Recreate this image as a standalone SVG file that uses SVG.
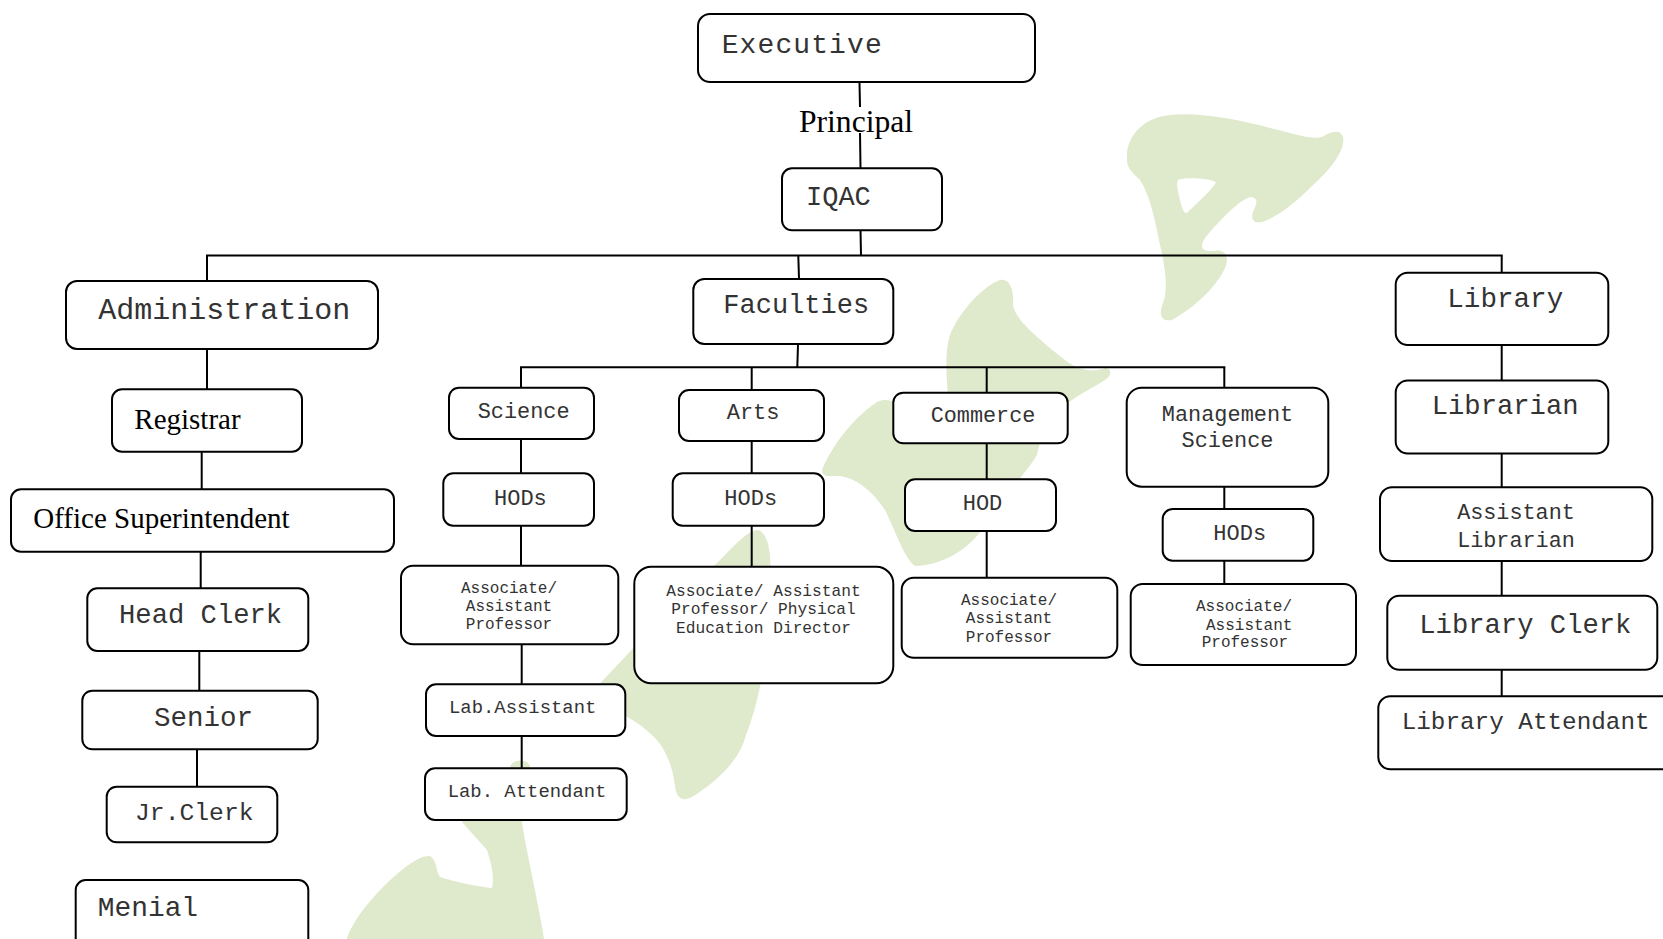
<svg xmlns="http://www.w3.org/2000/svg" width="1663" height="939" viewBox="0 0 1663 939">
<style>
.bg{fill:#ffffff}
.wm{fill:#dfe9cc;stroke:none}
.box{fill:#ffffff;stroke:#000000;stroke-width:2}
.ln{stroke:#000000;stroke-width:2;fill:none}
.m{font-family:"Liberation Mono","Courier New",monospace;fill:#333333}
.s{font-family:"Liberation Serif","Times New Roman",serif;fill:#000000}
.c{text-anchor:middle}
</style>
<rect class="bg" x="0" y="0" width="1663" height="939"/>
<g id="watermark">
<path class="wm" fill-rule="evenodd" d="M1127,160 C1125,140 1140,118 1170,115 C1200,112 1240,120 1270,128 C1295,134 1312,140 1322,137 C1330,132 1340,128 1343,137 C1346,150 1330,170 1312,186 C1295,203 1280,215 1265,221 C1255,225 1250,220 1253,212 C1256,205 1260,198 1250,197 C1240,200 1225,215 1210,232 C1198,245 1200,252 1213,251 C1225,248 1230,257 1225,268 C1215,290 1190,310 1172,320 C1162,322 1158,315 1163,303 C1168,290 1166,270 1160,245 C1155,220 1150,195 1140,180 C1132,172 1127,168 1127,160 Z M1178,180 C1182,177 1210,178 1216,182 C1214,188 1195,205 1188,212 C1185,215 1182,210 1180,200 C1178,192 1176,184 1178,180 Z"/>
<path class="wm" d="M822,470 C830,450 850,420 877,402 C890,396 898,405 905,412 L948,398 C946,370 945,350 950,335 C960,310 985,285 1000,280 C1010,278 1014,290 1013,305 C1015,320 1040,340 1065,360 C1080,372 1095,372 1105,368 C1112,368 1112,376 1105,380 C1090,390 1075,395 1060,410 C1045,425 1040,440 1037,455 C1025,475 1000,500 985,525 C970,550 940,566 915,566 C905,560 895,530 885,510 C872,490 855,478 840,476 C830,476 822,478 822,470 Z"/>
<path class="wm" d="M758,530 C766,532 772,548 770,575 L766,645 C762,690 752,720 745,738 C740,758 718,782 690,798 C680,802 676,795 675,786 C673,770 668,752 655,738 C645,728 632,718 620,714 L596,688 C640,640 690,590 720,560 C735,545 748,530 758,530 Z"/>
<path class="wm" d="M510,768 C510,760 526,757 530,766 L522,823 C528,860 538,900 545,945 L345,945 C348,930 360,910 385,885 C405,866 420,855 430,856 C437,860 436,872 440,877 C455,882 480,887 492,888 C495,875 490,860 487,850 L462,822 Z"/>
</g>
<g id="connectors">
<line class="ln" x1="859.5" y1="83" x2="860" y2="107"/>
<line class="ln" x1="860" y1="133" x2="860.5" y2="168"/>
<line class="ln" x1="860.5" y1="230" x2="861" y2="255.5"/>
<line class="ln" x1="206" y1="255.5" x2="1502.7" y2="255.5"/>
<line class="ln" x1="207" y1="255.5" x2="207" y2="281"/>
<line class="ln" x1="798.3" y1="255.5" x2="799" y2="279"/>
<line class="ln" x1="1501.7" y1="255.5" x2="1501.7" y2="272.7"/>
<line class="ln" x1="207" y1="349" x2="207" y2="389.3"/>
<line class="ln" x1="201.7" y1="451.7" x2="201.7" y2="489.3"/>
<line class="ln" x1="200.7" y1="551.7" x2="200.7" y2="588.3"/>
<line class="ln" x1="199.3" y1="651" x2="199.3" y2="690.7"/>
<line class="ln" x1="197" y1="749.3" x2="197" y2="786.7"/>
<line class="ln" x1="798" y1="344" x2="797.3" y2="367.3"/>
<line class="ln" x1="520" y1="367.3" x2="1225.3" y2="367.3"/>
<line class="ln" x1="521" y1="367.3" x2="521" y2="387.7"/>
<line class="ln" x1="751.7" y1="367.3" x2="751.7" y2="390"/>
<line class="ln" x1="986.7" y1="367.3" x2="986.7" y2="392.7"/>
<line class="ln" x1="1224.3" y1="367.3" x2="1224.3" y2="387.7"/>
<line class="ln" x1="521" y1="439" x2="521" y2="473.3"/>
<line class="ln" x1="521" y1="525.7" x2="521" y2="565.7"/>
<line class="ln" x1="521.7" y1="644.3" x2="521.7" y2="684.3"/>
<line class="ln" x1="521.7" y1="736" x2="521.7" y2="768.3"/>
<line class="ln" x1="751.7" y1="441" x2="751.7" y2="473.3"/>
<line class="ln" x1="751.7" y1="525.7" x2="751.7" y2="566.7"/>
<line class="ln" x1="986.7" y1="443.3" x2="986.7" y2="479.3"/>
<line class="ln" x1="986.7" y1="531" x2="986.7" y2="577.7"/>
<line class="ln" x1="1224.3" y1="486.7" x2="1224.3" y2="509"/>
<line class="ln" x1="1224.3" y1="560.7" x2="1224.3" y2="584"/>
<line class="ln" x1="1501.7" y1="345" x2="1501.7" y2="380.5"/>
<line class="ln" x1="1501.7" y1="453.5" x2="1501.7" y2="487.2"/>
<line class="ln" x1="1501.7" y1="561" x2="1501.7" y2="595.7"/>
<line class="ln" x1="1501.7" y1="669.8" x2="1501.7" y2="696.3"/>
</g>
<text id="principal" class="s" x="799" y="131.7" font-size="31.6">Principal</text>
<g id="executive"><rect class="box" x="698" y="14" width="337" height="68" rx="12"/><text class="m" x="721.7" y="52.7" font-size="28" letter-spacing="1.1">Executive</text></g>
<g id="iqac"><rect class="box" x="782" y="168.3" width="160" height="62" rx="10"/><text class="m" x="806" y="205" font-size="27">IQAC</text></g>
<g id="administration"><rect class="box" x="66" y="281" width="312" height="68" rx="11"/><text class="m" x="98.3" y="319.3" font-size="30">Administration</text></g>
<g id="registrar"><rect class="box" x="112" y="389.3" width="190" height="62.4" rx="10"/><text class="s" x="134.3" y="429" font-size="29">Registrar</text></g>
<g id="office-superintendent"><rect class="box" x="11" y="489.3" width="383" height="62.4" rx="10"/><text class="s" x="33.3" y="528.3" font-size="29">Office Superintendent</text></g>
<g id="head-clerk"><rect class="box" x="87.3" y="588.3" width="221" height="62.7" rx="10"/><text class="m" x="119" y="623.3" font-size="27.2">Head Clerk</text></g>
<g id="senior"><rect class="box" x="82.3" y="690.7" width="235.4" height="58.6" rx="10"/><text class="m" x="154" y="725.7" font-size="27.5">Senior</text></g>
<g id="jr-clerk"><rect class="box" x="106.7" y="786.7" width="170.6" height="55.6" rx="10"/><text class="m" x="135" y="820" font-size="24.7">Jr.Clerk</text></g>
<g id="menial"><rect class="box" x="75.7" y="880" width="232.6" height="80" rx="10"/><text class="m" x="97.7" y="916" font-size="27.9">Menial</text></g>
<g id="faculties"><rect class="box" x="693.3" y="279" width="200" height="65" rx="11"/><text class="m" x="723.3" y="313.3" font-size="27">Faculties</text></g>
<g id="science"><rect class="box" x="449" y="387.7" width="145" height="51.3" rx="10"/><text class="m" x="477.7" y="417.7" font-size="21.9">Science</text></g>
<g id="hods-science"><rect class="box" x="443.3" y="473.3" width="150.7" height="52.4" rx="10"/><text class="m" x="494" y="505" font-size="22">HODs</text></g>
<g id="assoc-science"><rect class="box" x="401" y="565.7" width="217.3" height="78.6" rx="12"/><text class="m c" font-size="16"><tspan x="509" y="593.3">Associate/</tspan><tspan x="509" y="611">Assistant</tspan><tspan x="509" y="629">Professor</tspan></text></g>
<g id="lab-assistant"><rect class="box" x="426" y="684.3" width="199.3" height="51.7" rx="10"/><text class="m" x="449" y="713.3" font-size="18.9">Lab.Assistant</text></g>
<g id="lab-attendant"><rect class="box" x="425" y="768.3" width="201.7" height="51.7" rx="10"/><text class="m" x="447.7" y="797.3" font-size="18.9">Lab. Attendant</text></g>
<g id="arts"><rect class="box" x="679" y="390" width="145" height="51" rx="10"/><text class="m" x="726.7" y="419.3" font-size="22">Arts</text></g>
<g id="hods-arts"><rect class="box" x="672.7" y="473.3" width="151.3" height="52.4" rx="10"/><text class="m" x="724.3" y="505" font-size="22">HODs</text></g>
<g id="assoc-arts"><rect class="box" x="634.3" y="566.7" width="259" height="116.6" rx="17"/><text class="m c" font-size="16.2"><tspan x="763.5" y="596">Associate/ Assistant</tspan><tspan x="763.5" y="614">Professor/ Physical</tspan><tspan x="763.5" y="632.7">Education Director</tspan></text></g>
<g id="commerce"><rect class="box" x="893.3" y="392.7" width="174.4" height="50.6" rx="10"/><text class="m" x="930.7" y="422.3" font-size="21.8">Commerce</text></g>
<g id="hod-commerce"><rect class="box" x="905" y="479.3" width="151" height="51.7" rx="10"/><text class="m" x="962.7" y="510" font-size="22">HOD</text></g>
<g id="assoc-commerce"><rect class="box" x="901.7" y="577.7" width="215.6" height="80" rx="12"/><text class="m c" font-size="16"><tspan x="1009" y="605">Associate/</tspan><tspan x="1009" y="623.3">Assistant</tspan><tspan x="1009" y="641.7">Professor</tspan></text></g>
<g id="management-science"><rect class="box" x="1126.7" y="387.7" width="201.6" height="99" rx="15"/><text class="m c" font-size="21.9"><tspan x="1227.5" y="421">Management</tspan><tspan x="1227.5" y="446.7">Science</tspan></text></g>
<g id="hods-management"><rect class="box" x="1162.7" y="509" width="150.6" height="51.7" rx="10"/><text class="m" x="1213.3" y="540" font-size="22">HODs</text></g>
<g id="assoc-management"><rect class="box" x="1130.7" y="584" width="225.3" height="81" rx="12"/><text class="m" font-size="16"><tspan x="1196" y="610.7">Associate/</tspan><tspan x="1206" y="630">Assistant</tspan><tspan x="1201.7" y="646.7">Professor</tspan></text></g>
<g id="library"><rect class="box" x="1395.7" y="272.7" width="212.6" height="72.3" rx="12"/><text class="m" x="1447.3" y="307.2" font-size="27.6">Library</text></g>
<g id="librarian"><rect class="box" x="1395.7" y="380.5" width="212.6" height="73" rx="12"/><text class="m" x="1431.7" y="413.9" font-size="27.2">Librarian</text></g>
<g id="assistant-librarian"><rect class="box" x="1380" y="487.2" width="272.3" height="73.8" rx="12"/><text class="m c" font-size="21.8"><tspan x="1516" y="519">Assistant</tspan><tspan x="1516" y="546.5">Librarian</tspan></text></g>
<g id="library-clerk"><rect class="box" x="1387.3" y="595.7" width="270" height="74.1" rx="12"/><text class="m" x="1419.3" y="632.6" font-size="27.2">Library Clerk</text></g>
<g id="library-attendant"><rect class="box" x="1378.3" y="696.3" width="320" height="73" rx="12"/><text class="m" x="1401.7" y="729" font-size="24.3">Library Attendant</text></g>
</svg>
